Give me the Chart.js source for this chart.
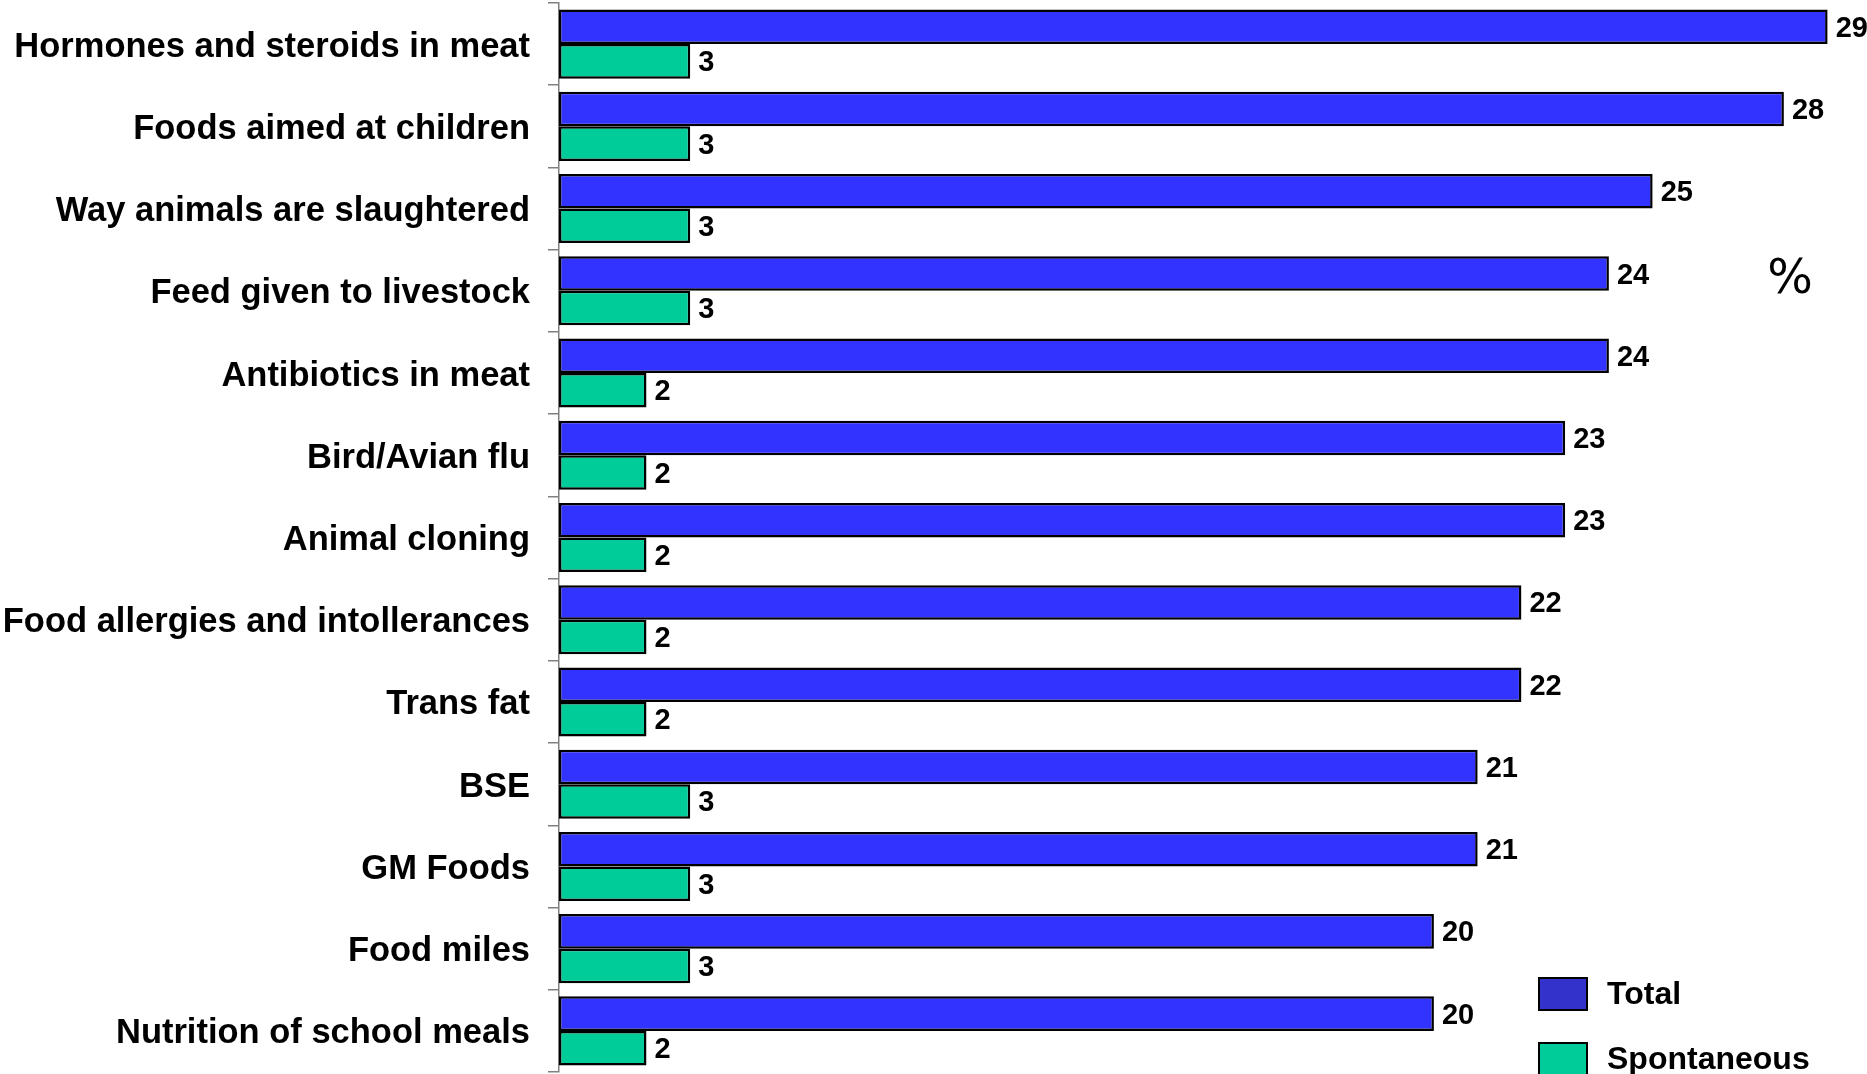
<!DOCTYPE html>
<html>
<head>
<meta charset="utf-8">
<script src="https://cdn.jsdelivr.net/npm/chart.js@4"></script>
<style>
html,body{margin:0;padding:0;background:#fff;overflow:hidden;}
#wrap{position:relative;width:1867px;height:1074px;}
</style>
</head>
<body>
<div id="wrap"><canvas id="c" width="1867" height="1074"></canvas></div>
<script>
const categories = [
  "Hormones and steroids in meat",
  "Foods aimed at children",
  "Way animals are slaughtered",
  "Feed given to livestock",
  "Antibiotics in meat",
  "Bird/Avian flu",
  "Animal cloning",
  "Food allergies and intollerances",
  "Trans fat",
  "BSE",
  "GM Foods",
  "Food miles",
  "Nutrition of school meals"
];
const totalValues = [29, 28, 25, 24, 24, 23, 23, 22, 22, 21, 21, 20, 20];
const spontaneousValues = [3, 3, 3, 3, 2, 2, 2, 2, 2, 3, 3, 3, 2];
const seriesNames = ["Total", "Spontaneous"];
const unitLabel = "%";

const FONT = "'Liberation Sans', Arial, sans-serif";

const valueLabels = {
  id: 'valueLabels',
  afterDatasetsDraw(chart) {
    const ctx = chart.ctx;
    ctx.save();
    ctx.font = "bold 29px " + FONT;
    ctx.fillStyle = "#000";
    ctx.textAlign = "left";
    ctx.textBaseline = "middle";
    chart.data.datasets.forEach((ds, di) => {
      const meta = chart.getDatasetMeta(di);
      meta.data.forEach((bar, i) => {
        ctx.fillText(String(ds.data[i]), bar.x + 8, bar.y + 2);
      });
    });
    ctx.restore();
  }
};

const customLegend = {
  id: 'customLegend',
  afterDraw(chart) {
    const ctx = chart.ctx;
    ctx.save();
    const boxX = 1538, boxW = 50, boxH = 34;
    const ys = [977, 1042];
    const fills = ["#3333CC", "#00CC99"];
    chart.data.datasets.forEach((ds, i) => {
      ctx.fillStyle = fills[i];
      ctx.fillRect(boxX, ys[i], boxW, boxH);
      ctx.lineWidth = 2;
      ctx.strokeStyle = "#000";
      ctx.strokeRect(boxX + 1, ys[i] + 1, boxW - 2, boxH - 2);
      ctx.fillStyle = "#000";
      ctx.font = "bold 32px " + FONT;
      ctx.textAlign = "left";
      ctx.textBaseline = "middle";
      ctx.fillText(ds.label, 1607, ys[i] + boxH / 2 + 1);
    });
    ctx.font = "48px 'DejaVu Sans', sans-serif";
    ctx.textAlign = "center";
    ctx.textBaseline = "middle";
    ctx.fillText(unitLabel, 1790, 281);
    ctx.restore();
  }
};

new Chart(document.getElementById('c'), {
  type: 'bar',
  data: {
    labels: categories,
    datasets: [
      { label: seriesNames[0], data: totalValues, backgroundColor: "#3333FF", borderColor: "#000", borderWidth: 2.5, borderSkipped: false },
      { label: seriesNames[1], data: spontaneousValues, backgroundColor: "#00CC99", borderColor: "#000", borderWidth: 2.5, borderSkipped: false }
    ]
  },
  options: {
    indexAxis: 'y',
    responsive: false,
    animation: false,
    devicePixelRatio: 1,
    layout: { padding: { top: 3, bottom: 2, left: 0, right: 0 } },
    datasets: { bar: { categoryPercentage: 0.84, barPercentage: 1.0 } },
    plugins: { legend: { display: false }, tooltip: { enabled: false } },
    scales: {
      x: { display: false, min: 0, max: 29.9 },
      y: {
        offset: true,
        afterFit(scale) {
          scale.paddingTop = 0;
          scale.paddingBottom = 0;
          scale.width = 559;
        },
        grid: { display: true, drawOnChartArea: false, drawTicks: true, tickLength: 11, color: "#808080", lineWidth: 1.5, offset: true },
        border: { display: true, color: "#808080", width: 1.5 },
        ticks: { color: "#000", font: { family: FONT, size: 34.5, weight: 'bold' }, padding: 18, labelOffset: 3 }
      }
    }
  },
  plugins: [valueLabels, customLegend]
});
</script>
</body>
</html>
